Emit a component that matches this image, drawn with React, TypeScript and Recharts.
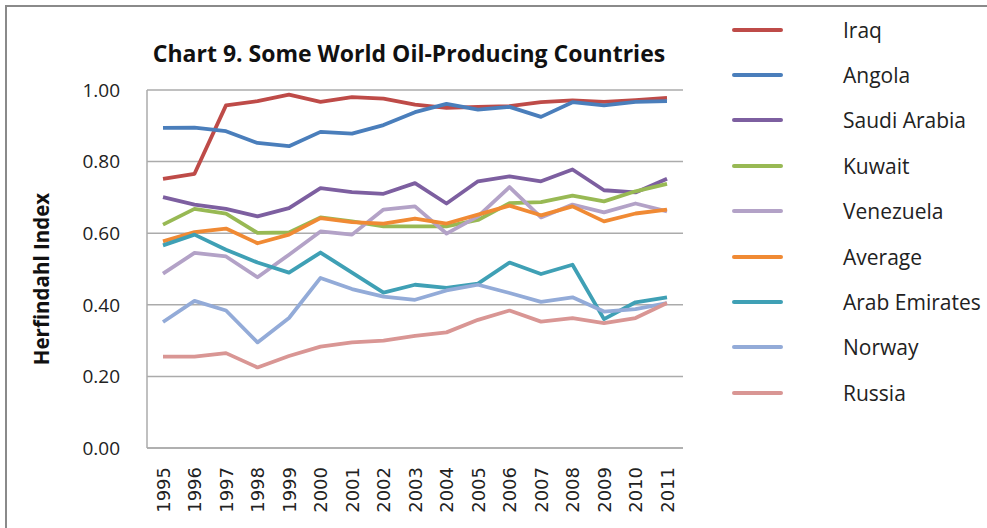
import { LineChart, Line, XAxis, YAxis, CartesianGrid } from "recharts";

const FONT = '"Open Sans", sans-serif';

const years = [
  "1995", "1996", "1997", "1998", "1999", "2000", "2001", "2002", "2003",
  "2004", "2005", "2006", "2007", "2008", "2009", "2010", "2011",
];

const iraq = [0.752, 0.766, 0.957, 0.969, 0.987, 0.967, 0.98, 0.976, 0.959, 0.95, 0.953, 0.955, 0.966, 0.971, 0.967, 0.972, 0.978];
const angola = [0.894, 0.895, 0.885, 0.852, 0.843, 0.883, 0.878, 0.902, 0.938, 0.961, 0.945, 0.953, 0.925, 0.966, 0.957, 0.967, 0.969];
const saudiArabia = [0.701, 0.68, 0.668, 0.647, 0.67, 0.726, 0.715, 0.71, 0.74, 0.683, 0.745, 0.759, 0.745, 0.778, 0.72, 0.714, 0.752];
const kuwait = [0.624, 0.668, 0.655, 0.601, 0.602, 0.644, 0.633, 0.619, 0.619, 0.619, 0.637, 0.684, 0.687, 0.705, 0.689, 0.717, 0.738];
const venezuela = [0.487, 0.545, 0.535, 0.477, 0.54, 0.605, 0.596, 0.666, 0.675, 0.599, 0.647, 0.729, 0.644, 0.68, 0.658, 0.683, 0.661];
const average = [0.577, 0.603, 0.613, 0.572, 0.596, 0.642, 0.631, 0.627, 0.641, 0.627, 0.652, 0.677, 0.65, 0.675, 0.633, 0.655, 0.666];
const arabEmirates = [0.566, 0.596, 0.554, 0.518, 0.49, 0.546, 0.49, 0.434, 0.456, 0.447, 0.459, 0.518, 0.486, 0.512, 0.36, 0.407, 0.421];
const norway = [0.352, 0.411, 0.384, 0.295, 0.363, 0.475, 0.444, 0.423, 0.414, 0.44, 0.456, 0.433, 0.408, 0.421, 0.381, 0.388, 0.405];
const russia = [0.255, 0.255, 0.265, 0.225, 0.257, 0.283, 0.295, 0.3, 0.313, 0.323, 0.358, 0.384, 0.353, 0.363, 0.349, 0.363, 0.405];

const yTicks = [0, 0.2, 0.4, 0.6, 0.8, 1.0];

const series = [
  { name: "Iraq", values: iraq, color: "#BE4B48" },
  { name: "Angola", values: angola, color: "#4A7EBB" },
  { name: "Saudi Arabia", values: saudiArabia, color: "#7D5FA0" },
  { name: "Kuwait", values: kuwait, color: "#98B954" },
  { name: "Venezuela", values: venezuela, color: "#B3A2C7" },
  { name: "Average", values: average, color: "#F08A34" },
  { name: "Arab Emirates", values: arabEmirates, color: "#3FA0B5" },
  { name: "Norway", values: norway, color: "#93ABD8" },
  { name: "Russia", values: russia, color: "#D99694" },
];

const rows = years.map((year, i) => {
  const row: Record<string, string | number> = { year };
  series.forEach((s) => {
    row[s.name] = s.values[i];
  });
  return row;
});

function YearTick({ x, y, payload }: any) {
  return (
    <text
      x={x}
      y={y}
      transform={`rotate(-90 ${x} ${y})`}
      textAnchor="end"
      dominantBaseline="central"
      fontFamily='"DejaVu Sans", sans-serif'
      fontSize={18}
      fill="#222"
    >
      {payload.value}
    </text>
  );
}

// legend kept outside the chart so it doesn't eat into the plot area
function SideLegend() {
  return (
    <div
      style={{
        position: "absolute",
        left: 720,
        top: 7,
        width: 267,
        fontFamily: FONT,
      }}
    >
      {series.map((s) => (
        <div
          key={s.name}
          style={{ height: 45.4, display: "flex", alignItems: "center" }}
        >
          <span
            style={{
              display: "inline-block",
              width: 51,
              height: 4,
              borderRadius: 2,
              background: s.color,
              marginLeft: 12,
            }}
          />
          <span style={{ marginLeft: 60, fontSize: 21, color: "#222" }}>
            {s.name}
          </span>
        </div>
      ))}
    </div>
  );
}

export default function App() {
  return (
    <div
      style={{
        position: "absolute",
        left: 0,
        top: 0,
        width: 987,
        height: 528,
        overflow: "hidden",
        background: "#fff",
      }}
    >
      {/* outer chart frame, cut off at right and bottom */}
      <div
        style={{
          position: "absolute",
          left: 5,
          top: 5,
          width: 1100,
          height: 700,
          border: "2px solid #8a8a8a",
        }}
      />
      <div
        style={{
          position: "absolute",
          left: 0,
          top: 37,
          width: 818,
          textAlign: "center",
          fontFamily: FONT,
          fontWeight: 700,
          fontSize: 23,
          color: "#111",
        }}
      >
        Chart 9. Some World Oil-Producing Countries
      </div>
      <div
        style={{
          position: "absolute",
          left: 41,
          top: 279,
          transform: "translate(-50%, -50%) rotate(-90deg)",
          whiteSpace: "nowrap",
          fontFamily: FONT,
          fontWeight: 700,
          fontSize: 20.5,
          color: "#111",
        }}
      >
        Herfindahl Index
      </div>
      <div style={{ position: "absolute", left: 0, top: 0 }}>
        <LineChart
          width={987}
          height={528}
          data={rows}
          margin={{ top: 90, right: 304, bottom: 0, left: 0 }}
        >
          <CartesianGrid
            horizontal
            vertical={false}
            stroke="#ABABAB"
            strokeWidth={1.5}
          />
          <XAxis
            dataKey="year"
            height={80}
            interval={0}
            padding={{ left: 16, right: 16 }}
            tickLine={false}
            tickSize={0}
            tickMargin={19}
            axisLine={{ stroke: "#ABABAB", strokeWidth: 1.5 }}
            tick={<YearTick />}
          />
          <YAxis
            width={147}
            domain={[0, 1]}
            ticks={yTicks}
            tickFormatter={(v: number) => v.toFixed(2)}
            tickLine={false}
            tickSize={0}
            tickMargin={27}
            axisLine={{ stroke: "#ABABAB", strokeWidth: 1.5 }}
            tick={{ fontFamily: FONT, fontSize: 19, fill: "#222" }}
          />
          {series.map((s) => (
            <Line
              key={s.name}
              type="linear"
              dataKey={s.name}
              name={s.name}
              stroke={s.color}
              strokeWidth={3.8}
              strokeLinejoin="round"
              dot={false}
              isAnimationActive={false}
            />
          ))}
        </LineChart>
      </div>
      <SideLegend />
    </div>
  );
}
